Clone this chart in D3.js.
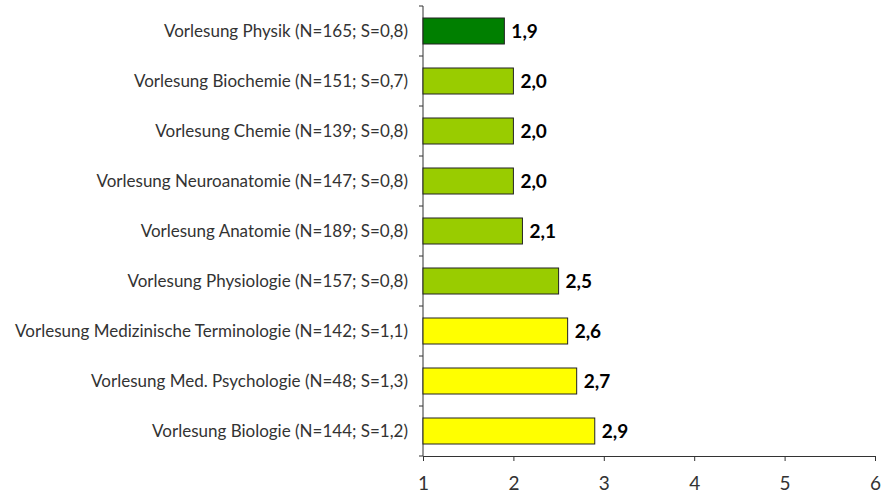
<!DOCTYPE html>
<html>
<head>
<meta charset="utf-8">
<script src="https://cdn.jsdelivr.net/npm/d3@7"></script>
<style>
body { margin: 0; background: #fff; }
.axis path, .axis line { stroke: #333; }
.axis text { fill: #333; font-family: Lato, sans-serif; font-size: 19px; }
</style>
</head>
<body>
<script>
var width = 881;
var height = 494;

var margin = { top: 6, right: 6, bottom: 38, left: 423 };

var categories = [
    'Vorlesung Physik (N=165; S=0,8)',
    'Vorlesung Biochemie (N=151; S=0,7)',
    'Vorlesung Chemie (N=139; S=0,8)',
    'Vorlesung Neuroanatomie (N=147; S=0,8)',
    'Vorlesung Anatomie (N=189; S=0,8)',
    'Vorlesung Physiologie (N=157; S=0,8)',
    'Vorlesung Medizinische Terminologie (N=142; S=1,1)',
    'Vorlesung Med. Psychologie (N=48; S=1,3)',
    'Vorlesung Biologie (N=144; S=1,2)'
];
var values = [1.9, 2.0, 2.0, 2.0, 2.1, 2.5, 2.6, 2.7, 2.9];
var xTicks = [1, 2, 3, 4, 5, 6];

var dataset = categories.map(function(c, i) { return [c, values[i]]; });

var xScale = d3.scaleLinear()
    .domain([1, 6])
    .range([0, 875 - margin.left]);

var yScale = d3.scaleBand()
    .domain(categories)
    .range([0, height - margin.top - margin.bottom])
    .paddingInner(0.48)
    .paddingOuter(0.24);

var color = d3.scaleThreshold()
    .domain([1.95, 2.55])
    .range(['#007f00', '#99cc00', '#ffff00']);

var svg = d3.select('body')
    .append('svg')
    .attr('width', width)
    .attr('height', height);

var g = svg.append('g')
    .attr('transform', 'translate(' + margin.left + ',' + margin.top + ')');

var innerH = height - margin.top - margin.bottom;

// x axis
var xAxis = d3.axisBottom(xScale)
    .tickValues(xTicks)
    .tickFormat(d3.format('d'))
    .tickSize(5)
    .tickSizeOuter(0);

g.append('g')
    .attr('class', 'axis')
    .attr('transform', 'translate(0,' + innerH + ')')
    .call(xAxis)
    .call(function(s) { s.selectAll('text').attr('y', 21); });

// y axis: line plus ticks on the category boundaries
g.append('line')
    .attr('x1', 0).attr('x2', 0)
    .attr('y1', 0).attr('y2', innerH)
    .attr('stroke', '#333');

var step = yScale.step();
var bounds = d3.range(categories.length + 1).map(function(i) { return i * step; });

g.append('g')
    .selectAll('line')
    .data(bounds)
    .enter()
    .append('line')
    .attr('x1', -4).attr('x2', 0)
    .attr('y1', function(d) { return d; })
    .attr('y2', function(d) { return d; })
    .attr('stroke', '#333');

// category labels
g.append('g')
    .selectAll('text')
    .data(dataset)
    .enter()
    .append('text')
    .attr('x', -15)
    .attr('y', function(d) { return yScale(d[0]) + yScale.bandwidth() / 2; })
    .attr('dy', '0.35em')
    .attr('text-anchor', 'end')
    .attr('fill', '#333')
    .attr('font-family', 'Lato, sans-serif')
    .attr('font-size', '17px')
    .text(function(d) { return d[0]; });

// bars
g.append('g')
    .selectAll('rect')
    .data(dataset)
    .enter()
    .append('rect')
    .attr('x', xScale(1))
    .attr('y', function(d) { return yScale(d[0]); })
    .attr('width', function(d) { return xScale(d[1]) - xScale(1); })
    .attr('height', yScale.bandwidth())
    .attr('fill', function(d) { return color(d[1]); })
    .attr('stroke', '#222')
    .attr('stroke-width', 1);

// value labels
g.append('g')
    .selectAll('text')
    .data(dataset)
    .enter()
    .append('text')
    .attr('x', function(d) { return xScale(d[1]) + 7; })
    .attr('y', function(d) { return yScale(d[0]) + yScale.bandwidth() / 2; })
    .attr('dy', '0.35em')
    .attr('fill', '#000')
    .attr('font-family', 'Lato, sans-serif')
    .attr('font-weight', 'bold')
    .attr('font-size', '19px')
    .text(function(d) { return d3.format('.1f')(d[1]).replace('.', ','); });
</script>
</body>
</html>
